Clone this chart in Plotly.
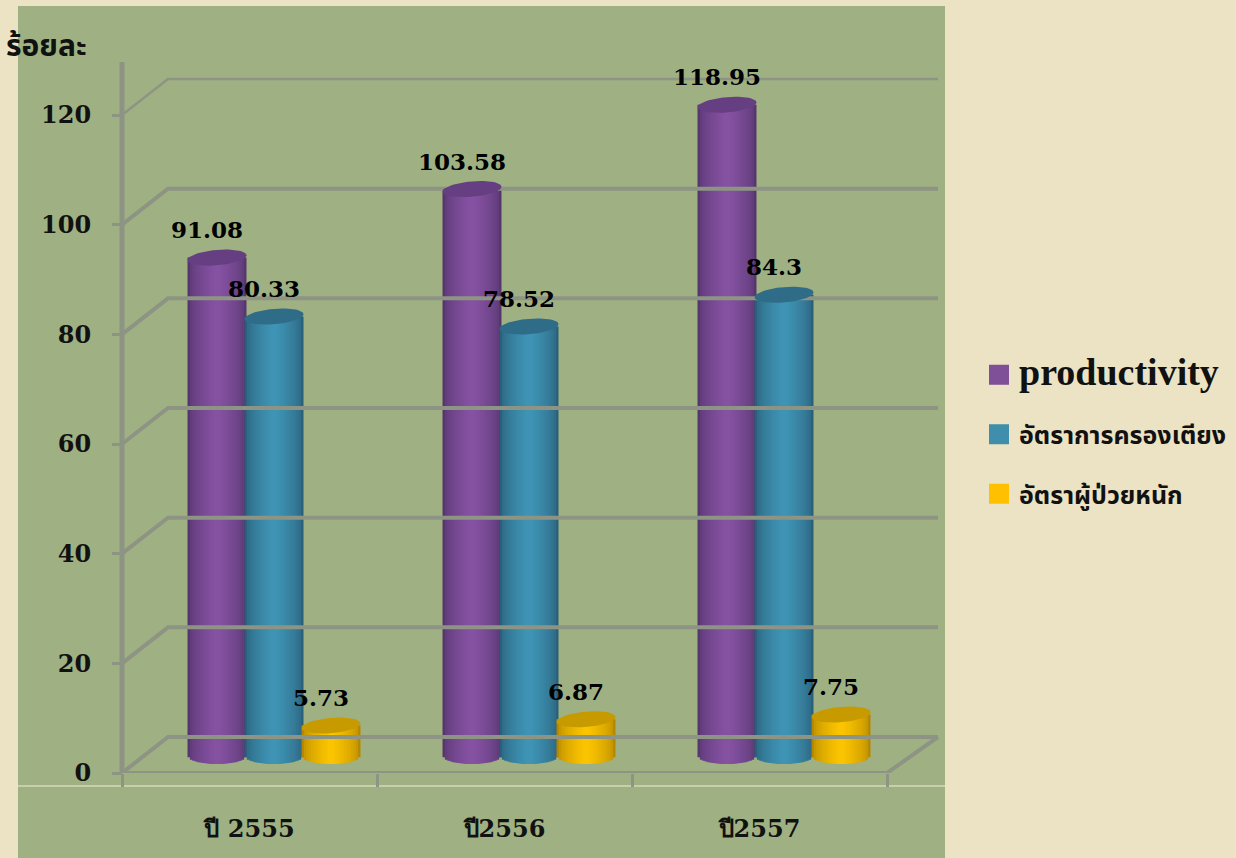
import numpy as np
import plotly.graph_objects as go

# ---- data ----
categories = ["ปี 2555", "ปี2556", "ปี2557"]
productivity = [91.08, 103.58, 118.95]
occupancy = [80.33, 78.52, 84.3]
severe = [5.73, 6.87, 7.75]
value_labels = [["91.08", "103.58", "118.95"], ["80.33", "78.52", "84.3"], ["5.73", "6.87", "7.75"]]
series_names = ["productivity", "อัตราการครองเตียง", "อัตราผู้ป่วยหนัก"]
y_ticks = [0, 20, 40, 60, 80, 100, 120]

# ---- style / geometry ----
W, H = 1236, 858
L, R, T, B = 116, 945, 62, 773
ORIGIN = 122
PX_X = 255.0
PX_Y = 5.483
BEIGE = "#EBE3C3"
PANEL = "#9FB183"
GRID = "#8E9484"
SERIF = "DejaVu Serif"
THAI = "Noto Sans Thai, Noto Sans, sans-serif"
edge = ["#56366F", "#2A5F7A", "#B58700"]
mid = ["#8853A5", "#4097B8", "#FFC800"]
top = ["#653F82", "#2E6C88", "#C79A00"]
swatch = ["#7F4F98", "#3F8EAB", "#FFC000"]
offsets_px = [95, 152, 209]
half_w = 29.5 / PX_X
depth_u = 7 / PX_Y
base_u = 16 / PX_Y
bx, by = 46 / PX_X, 36 / PX_Y
back_end = 816 / PX_X
y_top = (B - T) / PX_Y
x_min = (L - ORIGIN) / PX_X
x_max = (R - ORIGIN) / PX_X


def mix(a, b, t):
    ca = [int(a[i:i + 2], 16) for i in (1, 3, 5)]
    cb = [int(b[i:i + 2], 16) for i in (1, 3, 5)]
    return "rgb(%d,%d,%d)" % tuple(round(p + (q - p) * t) for p, q in zip(ca, cb))


def xp(px):
    return (px - L) / (R - L)


def yp(py):
    return (B - py) / (B - T)


fig = go.Figure()
values = [productivity, occupancy, severe]
groups = np.arange(len(categories))

# back wall, floor and perspective lines
for t in y_ticks:
    fig.add_trace(go.Scatter(x=[0, bx, back_end], y=[t, t + by, t + by], mode="lines",
                             line=dict(color=GRID, width=2.5 if t == 120 else 4),
                             showlegend=False, hoverinfo="skip", cliponaxis=False))
fig.add_trace(go.Scatter(x=[0, 3, back_end], y=[0, 0, by], mode="lines",
                         line=dict(color=GRID, width=4), showlegend=False, hoverinfo="skip",
                         cliponaxis=False))
fig.add_trace(go.Scatter(x=[0, 0], y=[0, y_top], mode="lines",
                         line=dict(color=GRID, width=5), showlegend=False, hoverinfo="skip",
                         cliponaxis=False))

# cylinders: nested bars with a rounded base
fracs = np.linspace(1, 0.12, 12)
for s, vals in enumerate(values):
    xs = groups + offsets_px[s] / PX_X
    v = np.array(vals)
    for f in fracs:
        drop = depth_u * np.sqrt(1 - min(f, 0.999) ** 2)
        fig.add_trace(go.Bar(x=xs, y=v + drop, base=base_u - drop, width=2 * half_w * f,
                             marker=dict(color=mix(edge[s], mid[s], (1 - f) ** 0.55 if f < 1 else 0),
                                         line=dict(width=0)),
                             showlegend=False, hoverinfo="skip"))

# cylinder tops
theta = np.linspace(0, 2 * np.pi, 60)
for s, vals in enumerate(values):
    for g, v in enumerate(vals):
        cx = g + offsets_px[s] / PX_X
        dx = half_w * np.cos(theta)
        dy = depth_u * 1.1 * np.sin(theta)
        fig.add_trace(go.Scatter(x=cx + dx, y=v + base_u + dy + dx * PX_X * 0.08 / PX_Y,
                                 mode="lines", fill="toself", fillcolor=top[s],
                                 line=dict(width=0, color=top[s]),
                                 showlegend=False, hoverinfo="skip"))

# legend entries
legend_names = ['<span style="font-family:Liberation Serif;font-size:38px">%s</span>' % series_names[0],
                series_names[1], series_names[2]]
for s, name in enumerate(legend_names):
    fig.add_trace(go.Scatter(x=[None], y=[None], mode="markers", name=name,
                             legendgroup=series_names[s],
                             marker=dict(symbol="square", size=16, color=swatch[s],
                                         line=dict(width=4, color=swatch[s])),
                             hoverinfo="skip"))

annotations = []
for s, vals in enumerate(values):
    for g, v in enumerate(vals):
        annotations.append(dict(x=g + (offsets_px[s] - 10) / PX_X, y=v + base_u, yshift=28,
                                xref="x", yref="y", text=value_labels[s][g], showarrow=False,
                                font=dict(family=SERIF, size=23, color="#000", weight=700)))
annotations.append(dict(x=xp(46), y=yp(47), xref="paper", yref="paper", text="<b>ร้อยละ</b>",
                        xanchor="center", yanchor="middle", showarrow=False,
                        font=dict(family=THAI, size=30, color="#111")))

shapes = [
    dict(type="rect", xref="paper", yref="paper", x0=xp(18), x1=xp(945), y0=yp(858), y1=yp(6),
         fillcolor=PANEL, line=dict(width=0), layer="below"),
    dict(type="line", xref="paper", yref="paper", x0=xp(18), x1=xp(945), y0=yp(786), y1=yp(786),
         line=dict(color="#F2ECD2", width=1), layer="below"),
]

fig.update_layout(
    width=W, height=H, autosize=False,
    margin=dict(l=L, r=W - R, t=T, b=H - B, pad=0, autoexpand=False),
    paper_bgcolor=BEIGE, plot_bgcolor="rgba(0,0,0,0)",
    barmode="overlay", shapes=shapes, annotations=annotations,
    hovermode=False,
    legend=dict(x=xp(979), y=yp(352), xanchor="left", yanchor="top", bgcolor="rgba(0,0,0,0)",
                font=dict(family=THAI, size=25, color="#111", weight=700),
                tracegroupgap=24, itemwidth=30),
    xaxis=dict(range=[x_min, x_max], showgrid=False, zeroline=False, showline=False,
               tickmode="array", tickvals=[0.5, 1.5, 2.5], ticktext=categories,
               ticks="", ticklabelstandoff=39,
               tickfont=dict(family=SERIF, size=24, color="#111", weight=700),
               minor=dict(tickmode="array", tickvals=[0, 1, 2, 3], ticks="outside", ticklen=13,
                          tickwidth=3, tickcolor=GRID, showgrid=False)),
    yaxis=dict(range=[0, y_top], anchor="free", position=(ORIGIN - L) / (R - L),
               showgrid=False, zeroline=False, showline=False,
               tickmode="array", tickvals=y_ticks, ticks="outside", ticklen=10,
               tickwidth=3, tickcolor=GRID, ticklabelstandoff=16,
               tickfont=dict(family=SERIF, size=24, color="#111", weight=700)),
)

fig.write_html("out.html", config={"displayModeBar": False},
               post_script="document.body.style.margin='0';")
